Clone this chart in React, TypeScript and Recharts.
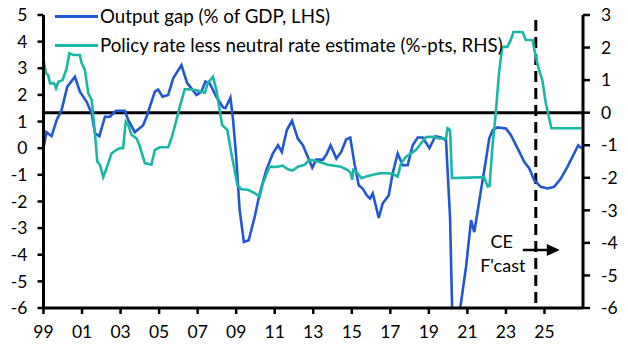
import { LineChart, Line, XAxis, YAxis, ReferenceLine, Legend } from 'recharts';

const FONT = 'Lato, "Open Sans", sans-serif';
const FONT_SIZE = 17.5;
const LEGEND_SIZE = 18.7;
const BLUE = '#2356D2';
const TEAL = '#1BB7A6';

// [year, value]
const outputGap: [number, number][] = [
  [1999.0, 0.0], [1999.15, 0.6], [1999.42, 0.45], [1999.68, 1.05], [1999.94, 1.43],
  [2000.23, 2.3], [2000.63, 2.68], [2000.89, 2.12], [2001.24, 1.74], [2001.5, 1.3],
  [2001.67, 0.56], [2001.9, 0.45], [2002.19, 1.18], [2002.45, 1.18], [2002.76, 1.4],
  [2003.22, 1.4], [2003.4, 1.05], [2003.74, 0.6], [2004.17, 0.86], [2004.35, 1.18],
  [2004.78, 2.12], [2004.95, 2.2], [2005.18, 1.93], [2005.47, 2.0], [2005.73, 2.62],
  [2006.16, 3.12], [2006.45, 2.45], [2006.94, 2.0], [2007.2, 2.12], [2007.4, 2.5],
  [2007.63, 2.43], [2007.97, 1.93], [2008.32, 1.53], [2008.44, 1.5], [2008.7, 1.9],
  [2008.84, 1.05], [2009.0, -0.33], [2009.18, -2.33], [2009.4, -3.52], [2009.65, -3.46],
  [2009.96, -2.58], [2010.22, -1.7], [2010.56, -0.83], [2010.9, -0.2], [2011.17, 0.11],
  [2011.37, -0.14], [2011.63, 0.68], [2011.9, 1.03], [2012.2, 0.36], [2012.46, 0.11],
  [2012.72, -0.33], [2012.95, -0.73], [2013.15, -0.43], [2013.5, -0.43], [2013.67, -0.26],
  [2013.9, 0.11], [2014.2, -0.39], [2014.45, -0.14], [2014.71, 0.33], [2014.92, 0.4],
  [2015.14, -0.58], [2015.36, -1.39], [2015.57, -1.52], [2015.78, -1.77], [2015.95, -1.89],
  [2016.09, -1.7], [2016.26, -2.2], [2016.4, -2.62], [2016.6, -2.08], [2016.92, -1.77],
  [2017.12, -0.95], [2017.38, -0.2], [2017.64, -0.64], [2017.9, -0.64], [2018.16, 0.11],
  [2018.42, 0.4], [2018.68, 0.4], [2019.03, 0.0], [2019.34, 0.45], [2019.63, 0.4],
  [2019.89, 0.3], [2020.1, -2.6], [2020.3, -9.0], [2020.55, -6.4], [2020.93, -4.46],
  [2021.19, -2.7], [2021.36, -3.15], [2021.7, -1.6], [2021.96, -0.45], [2022.13, 0.36],
  [2022.31, 0.68], [2022.56, 0.78], [2023.0, 0.74], [2023.26, 0.49], [2023.6, 0.0],
  [2023.95, -0.51], [2024.21, -0.76], [2024.47, -1.2], [2024.81, -1.45], [2025.16, -1.51],
  [2025.5, -1.45], [2025.85, -1.14], [2026.19, -0.7], [2026.54, -0.2], [2026.75, 0.11],
  [2026.92, 0.0],
];

const policyGap: [number, number][] = [
  [1999.0, 1.62], [1999.13, 1.21], [1999.24, 1.16], [1999.34, 0.9], [1999.55, 0.9],
  [1999.65, 0.75], [1999.77, 0.95], [1999.99, 1.0], [2000.2, 1.36], [2000.34, 1.82],
  [2000.55, 1.77], [2000.88, 1.77], [2000.98, 1.52], [2001.15, 1.31], [2001.32, 0.6],
  [2001.5, 0.39], [2001.67, -0.63], [2001.79, -1.5], [2001.93, -1.6], [2002.1, -1.98],
  [2002.27, -1.71], [2002.53, -1.25], [2002.79, -1.14], [2002.96, -1.09], [2003.13, -1.09],
  [2003.27, -0.28], [2003.4, -0.38], [2003.57, -0.68], [2003.83, -0.79], [2004.0, -1.04],
  [2004.26, -1.55], [2004.6, -1.6], [2004.78, -1.14], [2005.04, -1.06], [2005.47, -1.06],
  [2005.64, -0.79], [2005.81, -0.43], [2006.07, 0.18], [2006.33, 0.72], [2006.6, 0.72],
  [2007.0, 0.68], [2007.37, 0.61], [2007.54, 0.92], [2007.8, 1.1], [2007.97, 0.7],
  [2008.27, -0.38], [2008.54, -0.53], [2008.75, -1.25], [2008.92, -1.76], [2009.06, -2.22],
  [2009.27, -2.35], [2009.61, -2.37], [2009.96, -2.47], [2010.22, -2.58], [2010.39, -2.17],
  [2010.56, -1.91], [2010.73, -1.66], [2011.07, -1.67], [2011.42, -1.63], [2011.68, -1.74],
  [2011.93, -1.78], [2012.2, -1.66], [2012.55, -1.6], [2012.8, -1.45], [2013.06, -1.47],
  [2013.41, -1.53], [2013.76, -1.6], [2014.1, -1.63], [2014.44, -1.66], [2014.79, -1.76],
  [2014.95, -1.86], [2015.02, -2.06], [2015.08, -1.76], [2015.3, -1.86], [2015.5, -2.01],
  [2015.75, -1.96], [2016.1, -1.91], [2016.45, -1.86], [2016.8, -1.86], [2017.12, -1.88],
  [2017.38, -1.96], [2017.56, -1.55], [2017.82, -1.35], [2018.08, -1.25], [2018.34, -1.14],
  [2018.6, -0.94], [2018.85, -0.75], [2019.2, -0.74], [2019.54, -0.79], [2019.89, -0.79],
  [2019.97, -0.48], [2020.1, -0.53], [2020.2, -2.01], [2021.87, -1.98], [2022.05, -2.27],
  [2022.15, -2.25], [2022.3, -1.04], [2022.47, -0.02], [2022.64, 1.21], [2022.81, 2.02],
  [2023.07, 2.02], [2023.25, 2.23], [2023.39, 2.48], [2023.86, 2.48], [2024.03, 2.23],
  [2024.38, 2.23], [2024.55, 1.72], [2024.72, 1.31], [2024.89, 1.0], [2025.07, 0.29],
  [2025.36, -0.48], [2026.92, -0.48],
];

const seriesNames = ['Output gap (% of GDP, LHS)', 'Policy rate less neutral rate estimate (%-pts, RHS)'];
const xTicks = [1999, 2001, 2003, 2005, 2007, 2009, 2011, 2013, 2015, 2017, 2019, 2021, 2023, 2025];
const leftTicks = [-6, -5, -4, -3, -2, -1, 0, 1, 2, 3, 4, 5];
const rightTicks = [-6, -5, -4, -3, -2, -1, 0, 1, 2, 3];
const forecastStart = 2024.55;

const gapData = outputGap.map(([t, v]) => ({ t, gap: v }));
const policyData = policyGap.map(([t, v]) => ({ t, policy: v }));

const tickStyle = { fill: '#000', fontSize: FONT_SIZE, fontFamily: FONT };
const axisLine = { stroke: '#000', strokeWidth: 3 };
const tickLine = { stroke: '#000', strokeWidth: 2.5 };

const LegendBox = () => (
  <div style={{ fontFamily: FONT, fontSize: LEGEND_SIZE, color: '#000', whiteSpace: 'nowrap' }}>
    {seriesNames.map((name, i) => (
      <div key={name} style={{ display: 'flex', alignItems: 'center', height: 29 }}>
        <span style={{ display: 'inline-block', width: 43, height: 3, background: i === 0 ? BLUE : TEAL }} />
        <span style={{ marginLeft: 2 }}>{name}</span>
      </div>
    ))}
  </div>
);

const ForecastLabel = (props: any) => {
  const { x, y, height } = props.viewBox;
  const ay = y + height * 0.802;
  return (
    <g>
      <text x={x - 34} y={ay - 2} textAnchor="middle" fontFamily={FONT} fontSize={18} fill="#000">CE</text>
      <text x={x - 33} y={ay + 22} textAnchor="middle" fontFamily={FONT} fontSize={18} fill="#000">F'cast</text>
      <line x1={x - 13} x2={x + 13} y1={ay} y2={ay} stroke="#000" strokeWidth={2.5} />
      <polygon points={`${x + 11},${ay - 6} ${x + 24},${ay} ${x + 11},${ay + 6}`} fill="#000" />
    </g>
  );
};

export default function App() {
  return (
    <div style={{ position: 'absolute', left: 0, top: 0, width: 628, height: 352, background: '#fff' }}>
      <LineChart width={628} height={352} margin={{ top: 15, right: 0, bottom: 14, left: 3 }} style={{ fontFamily: FONT }}>
        <XAxis
          dataKey="t"
          type="number"
          domain={[1999, 2027]}
          ticks={xTicks}
          allowDataOverflow
          tickFormatter={(v: number) => String(v).slice(2)}
          tick={tickStyle}
          axisLine={axisLine}
          tickLine={tickLine}
          tickSize={6}
          tickMargin={12}
          height={30}
        />
        <YAxis
          yAxisId="left"
          domain={[-6, 5]}
          ticks={leftTicks}
          allowDataOverflow
          tick={tickStyle}
          axisLine={axisLine}
          tickLine={tickLine}
          tickSize={6}
          tickMargin={10}
          width={40.5}
        />
        <YAxis
          yAxisId="right"
          orientation="right"
          domain={[-6, 3]}
          ticks={rightTicks}
          allowDataOverflow
          tick={{ ...tickStyle, textAnchor: 'start' }}
          axisLine={axisLine}
          tickLine={tickLine}
          tickSize={7}
          tickMargin={11}
          width={45}
        />
        <ReferenceLine yAxisId="right" y={0} stroke="#000" strokeWidth={3} />
        <ReferenceLine
          yAxisId="right"
          x={forecastStart}
          stroke="#000"
          strokeWidth={3}
          strokeDasharray="11 6"
          strokeDashoffset={-5}
          label={ForecastLabel}
        />
        <Legend
          layout="horizontal"
          verticalAlign="middle"
          align="center"
          content={LegendBox}
          wrapperStyle={{ top: 1.5, left: 55, width: 'auto' }}
        />
        <Line
          yAxisId="left"
          data={gapData}
          dataKey="gap"
          stroke={BLUE}
          strokeWidth={2.6}
          dot={false}
          isAnimationActive={false}
        />
        <Line
          yAxisId="right"
          data={policyData}
          dataKey="policy"
          stroke={TEAL}
          strokeWidth={2.6}
          dot={false}
          isAnimationActive={false}
        />
      </LineChart>
    </div>
  );
}
